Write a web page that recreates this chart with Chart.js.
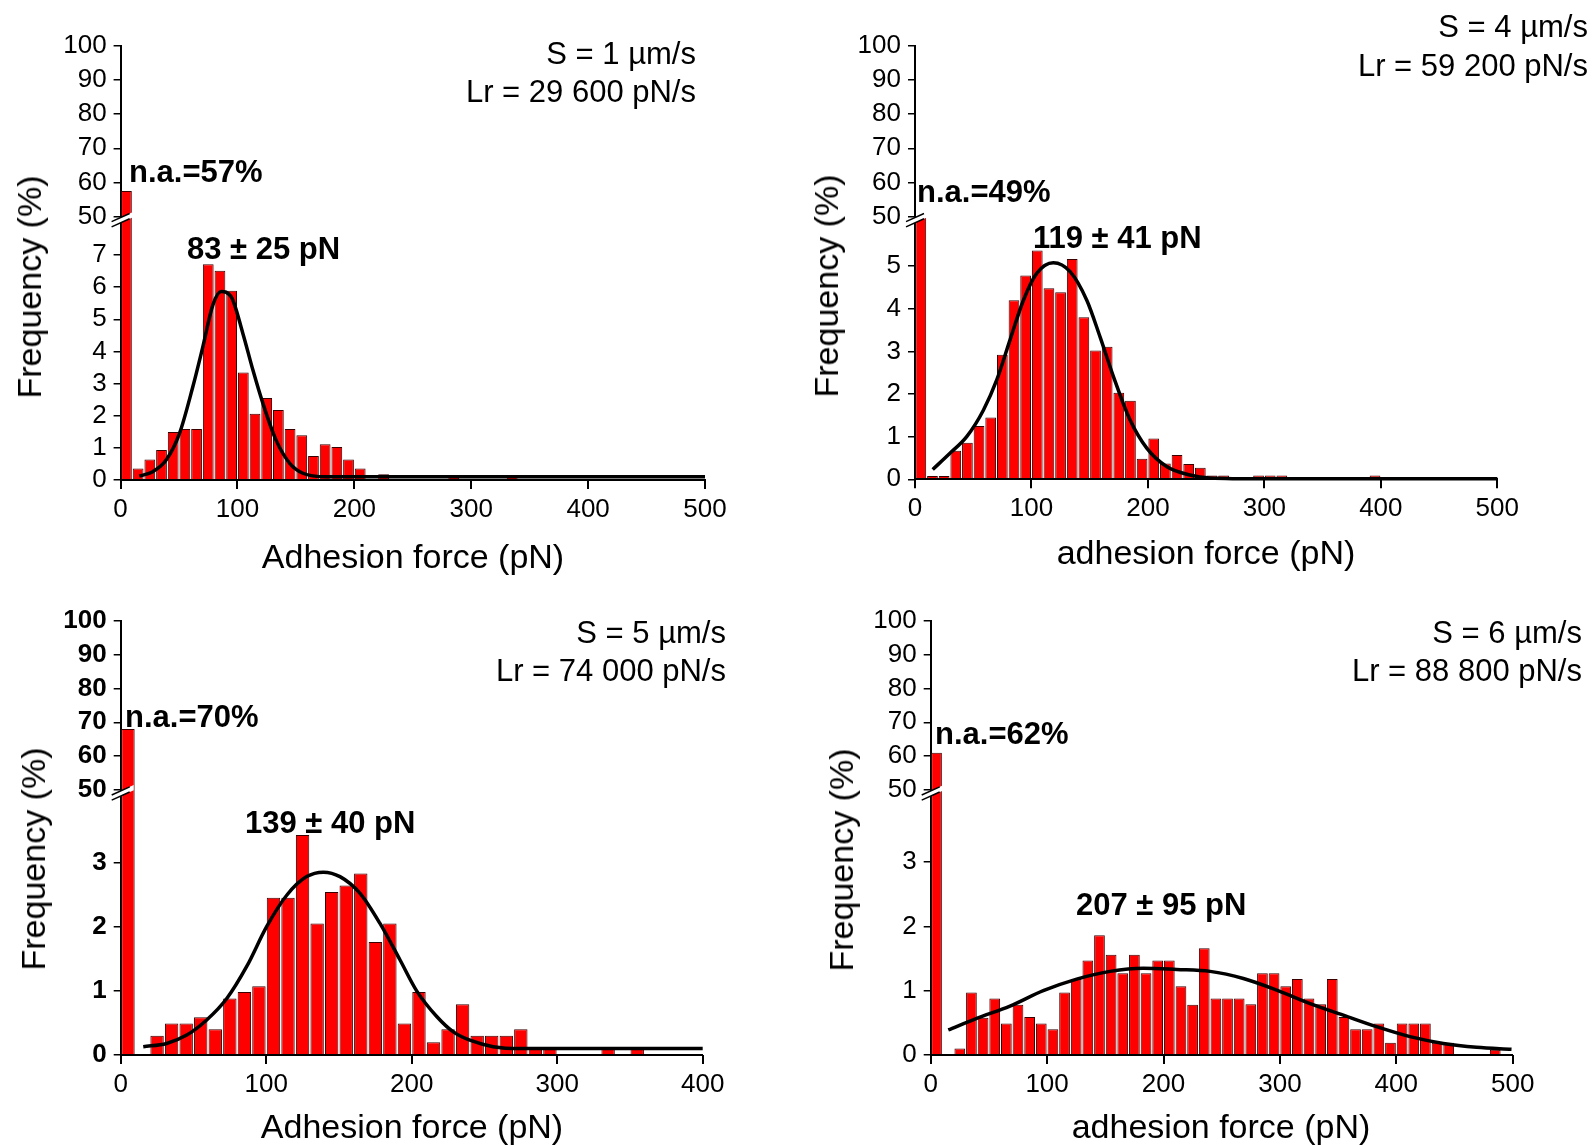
<!DOCTYPE html>
<html>
<head>
<meta charset="utf-8">
<script src="https://cdn.jsdelivr.net/npm/chart.js@4.4.1/dist/chart.umd.min.js"></script>
<style>
html, body { margin: 0; padding: 0; background: #fff; }
body { width: 1594px; height: 1145px; position: relative; overflow: hidden; font-family: "Liberation Sans", Arial, sans-serif; color: #000; }
canvas { position: absolute; }
.t { position: absolute; white-space: nowrap; line-height: 1; }
.c { transform: translate(-50%, -50%); }
.l { transform: translate(0, -50%); }
.r { transform: translate(-100%, -50%); }
.v { transform: translate(-50%, -50%) rotate(-90deg); }
.info { font-size: 31px; }
.note { font-size: 31px; font-weight: bold; }
.ttl { font-size: 34px; }
</style>
</head>
<body>
<canvas id="c1" width="790" height="575" style="left:0;top:0"></canvas>
<canvas id="c2" width="804" height="575" style="left:790px;top:0"></canvas>
<canvas id="c3" width="790" height="570" style="left:0;top:575px"></canvas>
<canvas id="c4" width="804" height="570" style="left:790px;top:575px"></canvas>

<!-- panel texts -->
<div class="t r info" style="left:696px;top:53px">S = 1 µm/s</div>
<div class="t r info" style="left:696px;top:91px">Lr = 29 600 pN/s</div>
<div class="t l note" style="left:129px;top:171px">n.a.=57%</div>
<div class="t l note" style="left:187px;top:248px">83 ± 25 pN</div>
<div class="t v ttl" style="left:29px;top:287px">Frequency (%)</div>
<div class="t c ttl" style="left:413px;top:556px">Adhesion force (pN)</div>

<div class="t r info" style="left:1588px;top:26px">S = 4 µm/s</div>
<div class="t r info" style="left:1588px;top:65px">Lr = 59 200 pN/s</div>
<div class="t l note" style="left:917px;top:191px">n.a.=49%</div>
<div class="t l note" style="left:1033px;top:237px">119 ± 41 pN</div>
<div class="t v ttl" style="left:826px;top:286px">Frequency (%)</div>
<div class="t c ttl" style="left:1206px;top:552px">adhesion force (pN)</div>

<div class="t r info" style="left:726px;top:632px">S = 5 µm/s</div>
<div class="t r info" style="left:726px;top:670px">Lr = 74 000 pN/s</div>
<div class="t l note" style="left:125px;top:716px">n.a.=70%</div>
<div class="t l note" style="left:245px;top:822px">139 ± 40 pN</div>
<div class="t v ttl" style="left:33px;top:859px">Frequency (%)</div>
<div class="t c ttl" style="left:412px;top:1126px">Adhesion force (pN)</div>

<div class="t r info" style="left:1582px;top:632px">S = 6 µm/s</div>
<div class="t r info" style="left:1582px;top:670px">Lr = 88 800 pN/s</div>
<div class="t l note" style="left:935px;top:733px">n.a.=62%</div>
<div class="t l note" style="left:1076px;top:904px">207 ± 95 pN</div>
<div class="t v ttl" style="left:841px;top:860px">Frequency (%)</div>
<div class="t c ttl" style="left:1221px;top:1126px">adhesion force (pN)</div>

<script>
// histogram bins are 10 pN wide, bin 0 (0-10 pN) holds the non-adhesive events (n.a.)
const binWidth = 10;

// --- S = 1 µm/s ---
const freq1 = [57.5, 0.36, 0.64, 0.93, 1.49, 1.59, 1.59, 6.71, 6.51, 5.89,
  3.34, 2.06, 2.55, 2.18, 1.59, 1.39, 0.75, 1.11, 1.03, 0.64,
  0.36, 0, 0.18, 0, 0, 0, 0, 0, 0.1, 0,
  0, 0, 0, 0.1];
const fit1X = [16, 27.6, 39, 50.4, 61.8, 70.4, 78.9, 86, 94.6, 104.6, 113.2, 121.7, 133, 144.7, 156, 176, 200, 300, 400, 500];
const fit1Y = [0.12, 0.26, 0.62, 1.45, 2.9, 4.15, 5.44, 5.86, 5.7, 4.56, 3.42, 2.39, 1.24, 0.52, 0.21, 0.1, 0.1, 0.1, 0.1, 0.1];

// --- S = 4 µm/s ---
const freq2 = [49, 0.08, 0.08, 0.67, 0.86, 1.25, 1.45, 2.92, 4.2, 4.78,
  5.37, 4.48, 4.39, 5.17, 3.8, 3.02, 3.11, 2.03, 1.84, 0.48,
  0.96, 0.37, 0.57, 0.36, 0.27, 0.09, 0.09, 0, 0, 0.09,
  0.09, 0.09, 0, 0, 0, 0, 0, 0, 0, 0.09];
const fit2X = [15.2, 30, 44.4, 58.7, 70.2, 81.6, 93.1, 104.5, 118.8, 133.2, 147.5, 158.9, 170.4, 184.7, 199, 216, 236, 253, 300, 400, 500];
const fit2Y = [0.23, 0.61, 1.0, 1.62, 2.33, 3.27, 4.2, 4.83, 5.08, 4.87, 4.2, 3.34, 2.41, 1.39, 0.73, 0.3, 0.1, 0.03, 0.01, 0.01, 0.01];

// --- S = 5 µm/s ---
const freq3 = [68, 0, 0.3, 0.49, 0.49, 0.59, 0.4, 0.88, 0.98, 1.07,
  2.45, 2.45, 3.43, 2.05, 2.54, 2.64, 2.83, 1.76, 2.05, 0.49,
  0.98, 0.2, 0.4, 0.79, 0.3, 0.3, 0.3, 0.4, 0.1, 0.1,
  0, 0, 0, 0.1, 0, 0.1];
const fit3X = [15.5, 31.6, 45.4, 59.1, 72.9, 86.6, 100.3, 114.1, 127.8, 139.3, 150.7, 164.5, 178.2, 192, 203.4, 217.2, 228.6, 240, 256, 274.4, 300, 350, 400];
const fit3Y = [0.13, 0.18, 0.31, 0.545, 0.88, 1.38, 2.0, 2.49, 2.78, 2.85, 2.78, 2.52, 2.05, 1.48, 1.0, 0.6, 0.36, 0.23, 0.13, 0.1, 0.1, 0.1, 0.1];

// --- S = 6 µm/s ---
const freq4 = [61, 0, 0.1, 0.97, 0.58, 0.88, 0.49, 0.78, 0.59, 0.49,
  0.4, 0.97, 1.18, 1.47, 1.86, 1.56, 1.27, 1.56, 1.27, 1.47,
  1.47, 1.07, 0.78, 1.66, 0.88, 0.88, 0.88, 0.79, 1.27, 1.27,
  1.07, 1.18, 0.88, 0.79, 1.18, 0.59, 0.4, 0.4, 0.49, 0.19,
  0.49, 0.49, 0.49, 0.19, 0.19, 0, 0, 0, 0.08];
const fit4X = [15.1, 39.5, 68.1, 96.7, 125.4, 154, 182.6, 211.3, 240, 268.6, 297.2, 325.9, 354.5, 383.1, 411.8, 440.4, 469, 499];
const fit4Y = [0.39, 0.57, 0.76, 1.0, 1.18, 1.3, 1.35, 1.33, 1.3, 1.19, 1.01, 0.8, 0.62, 0.44, 0.285, 0.18, 0.12, 0.09];

// tick labels
const upperTicks = [50, 60, 70, 80, 90, 100];
const lowTicks1 = [0, 1, 2, 3, 4, 5, 6, 7];
const lowTicks2 = [0, 1, 2, 3, 4, 5];
const lowTicks34 = [0, 1, 2, 3];
const xTicks500 = [0, 100, 200, 300, 400, 500];
const xTicks400 = [0, 100, 200, 300, 400];

// layout of each panel (page pixels)
const panels = [
  { id: 'c1', freq: freq1, fitX: fit1X, fitY: fit1Y, xTicks: xTicks500, lowTicks: lowTicks1, lowMax: 8.19, bold: false,
    box: { left: 0, top: 0, w: 790, h: 575 }, plot: { left: 120.6, right: 705, top: 45.7, mid: 216.7, bottom: 480 } },
  { id: 'c2', freq: freq2, fitX: fit2X, fitY: fit2Y, xTicks: xTicks500, lowTicks: lowTicks2, lowMax: 6.16, bold: false,
    box: { left: 790, top: 0, w: 804, h: 575 }, plot: { left: 915, right: 1497.3, top: 45.7, mid: 216.7, bottom: 479.3 } },
  { id: 'c3', freq: freq3, fitX: fit3X, fitY: fit3Y, xTicks: xTicks400, lowTicks: lowTicks34, lowMax: 4.13, bold: true,
    box: { left: 0, top: 575, w: 790, h: 570 }, plot: { left: 120.7, right: 702.7, top: 620.7, mid: 790, bottom: 1055 } },
  { id: 'c4', freq: freq4, fitX: fit4X, fitY: fit4Y, xTicks: xTicks500, lowTicks: lowTicks34, lowMax: 4.12, bold: false,
    box: { left: 790, top: 575, w: 804, h: 570 }, plot: { left: 930.7, right: 1512.7, top: 620.7, mid: 790, bottom: 1055 } }
];

const Y_W = 70, X_H = 60;
const FONT = '"Liberation Sans", Arial, sans-serif';

// every dataset only paints inside its own y scale (broken axis)
const clipToOwnScale = {
  id: 'clipToOwnScale',
  beforeDatasetDraw(chart, args) {
    const ys = args.meta.yScale, a = chart.chartArea, ctx = chart.ctx;
    const extra = ys.id === 'yLow' ? 5 : 0;
    ctx.save();
    ctx.beginPath();
    ctx.rect(a.left - 5, ys.top, a.right - a.left + 10, ys.bottom - ys.top + extra);
    ctx.clip();
  },
  afterDatasetDraw(chart) {
    chart.ctx.restore();
  }
};

// x tick marks sit under their labels
const xTickMarks = {
  id: 'xTickMarks',
  afterDraw(chart) {
    const xs = chart.scales.x, ctx = chart.ctx;
    ctx.save();
    ctx.strokeStyle = '#000';
    ctx.lineWidth = 2;
    ctx.beginPath();
    for (const t of xs.ticks) {
      const px = Math.round(xs.getPixelForValue(t.value));
      ctx.moveTo(px, xs.top);
      ctx.lineTo(px, xs.top + 9);
    }
    ctx.stroke();
    ctx.restore();
  }
};

// the // mark on the y axis
const axisBreak = {
  id: 'axisBreak',
  afterDraw(chart) {
    const low = chart.scales.yLow, ctx = chart.ctx;
    const x = low.right, y = low.top + 3.5, s = 0.45, g = 2.6;
    ctx.save();
    ctx.fillStyle = '#fff';
    ctx.beginPath();
    ctx.moveTo(x - 9, y - g + 9 * s);
    ctx.lineTo(x + 13, y - g - 13 * s);
    ctx.lineTo(x + 13, y + g - 13 * s);
    ctx.lineTo(x - 9, y + g + 9 * s);
    ctx.closePath();
    ctx.fill();
    ctx.strokeStyle = '#000';
    ctx.lineWidth = 1.5;
    ctx.beginPath();
    ctx.moveTo(x - 9, y - g + 9 * s); ctx.lineTo(x + 9, y - g - 9 * s);
    ctx.moveTo(x - 9, y + g + 9 * s); ctx.lineTo(x + 9, y + g - 9 * s);
    ctx.stroke();
    ctx.restore();
  }
};

function yScale(p, ticks, min, max, weight, order) {
  return {
    type: 'linear', position: 'left', stack: 'freq', stackWeight: weight, weight: order,
    min: min, max: max,
    afterBuildTicks: s => { s.ticks = ticks.map(v => ({ value: v })); },
    afterFit: s => { s.width = Y_W; },
    border: { display: true, color: '#000', width: 2 },
    grid: { drawOnChartArea: false, drawTicks: true, tickLength: 7, color: '#000', lineWidth: 1.5, offset: false },
    ticks: { color: '#000', padding: 7, autoSkip: false,
      font: { family: FONT, size: 26, weight: p.bold ? 'bold' : 'normal' } }
  };
}

panels.forEach(p => {
  const bars = p.freq.map((v, i) => ({ x: i * binWidth + binWidth / 2, y: v }));
  const fit = p.fitX.map((x, i) => ({ x: x, y: p.fitY[i] }));
  const xMax = p.xTicks[p.xTicks.length - 1];
  const b = p.box, q = p.plot;

  new Chart(document.getElementById(p.id), {
    type: 'bar',
    data: {
      datasets: [
        { type: 'line', data: fit, yAxisID: 'yLow', borderColor: '#000', borderWidth: 3.5,
          pointRadius: 0, cubicInterpolationMode: 'monotone', fill: false, clip: 5 },
        { data: bars, yAxisID: 'yLow', backgroundColor: '#ff0000', borderColor: '#3a0000', borderWidth: 1,
          grouped: false, barPercentage: 0.92, categoryPercentage: 1 },
        { data: [bars[0]], yAxisID: 'yHigh', backgroundColor: '#ff0000', borderColor: '#3a0000', borderWidth: 1,
          grouped: false, barPercentage: 0.92, categoryPercentage: 1 }
      ]
    },
    options: {
      responsive: false,
      animation: false,
      devicePixelRatio: 1,
      layout: {
        padding: {
          left: q.left - b.left - Y_W,
          right: b.left + b.w - q.right,
          top: q.top - b.top,
          bottom: b.top + b.h - q.bottom - X_H
        }
      },
      plugins: { legend: { display: false }, tooltip: { enabled: false } },
      scales: {
        x: {
          type: 'linear', min: 0, max: xMax, offset: false,
          afterBuildTicks: s => { s.ticks = p.xTicks.map(v => ({ value: v })); },
          afterFit: s => { s.height = X_H; },
          border: { display: true, color: '#000', width: 2, z: 1 },
          grid: { display: false },
          ticks: { color: '#000', padding: 6, autoSkip: false, maxRotation: 0,
            font: { family: FONT, size: 26 } }
        },
        yHigh: yScale(p, upperTicks, 50, 100, q.mid - q.top, 1),
        yLow: yScale(p, p.lowTicks, 0, p.lowMax, q.bottom - q.mid, 0)
      }
    },
    plugins: [clipToOwnScale, xTickMarks, axisBreak]
  });
});
</script>
</body>
</html>
